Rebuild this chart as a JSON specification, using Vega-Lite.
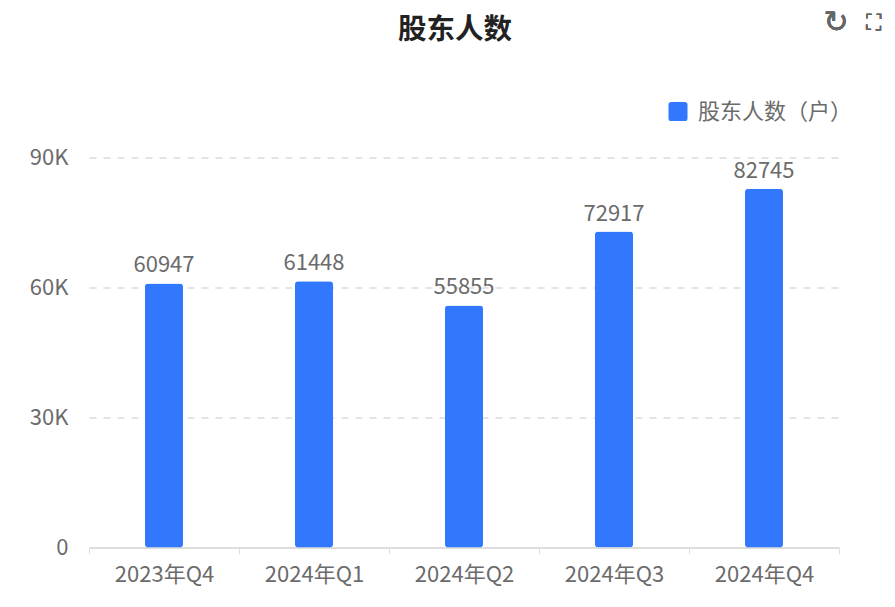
{
  "$schema": "https://vega.github.io/schema/vega-lite/v6.json",
  "width": 750,
  "height": 390,
  "autosize": "none",
  "padding": {"left": 89, "top": 157.5, "right": 56, "bottom": 59.5},
  "background": "white",
  "view": {"stroke": null},
  "title": {
    "text": "股东人数",
    "font": "Noto Sans CJK SC",
    "fontSize": 28.5,
    "fontWeight": "bold",
    "color": "#222222",
    "anchor": "middle",
    "dx": -9,
    "offset": -36
  },
  "data": {
    "values": [
      {"quarter": "2023年Q4", "holders": 60947},
      {"quarter": "2024年Q1", "holders": 61448},
      {"quarter": "2024年Q2", "holders": 55855},
      {"quarter": "2024年Q3", "holders": 72917},
      {"quarter": "2024年Q4", "holders": 82745}
    ]
  },
  "encoding": {
    "x": {
      "field": "quarter",
      "type": "nominal",
      "sort": null,
      "title": null,
      "scale": {"paddingInner": 0, "paddingOuter": 0},
      "axis": {
        "labelAngle": 0,
        "labelFont": "Noto Sans CJK SC",
        "labelFontSize": 22,
        "labelColor": "#6b6b6b",
        "labelPadding": 11,
        "domainColor": "#dddddd",
        "domainWidth": 2,
        "tickColor": "#dddddd",
        "tickSize": 6,
        "tickBand": "extent",
        "grid": false
      }
    }
  },
  "layer": [
    {
      "mark": {"type": "bar", "width": 38, "cornerRadius": 3},
      "encoding": {
        "y": {
          "field": "holders",
          "type": "quantitative",
          "title": null,
          "scale": {"domain": [0, 90000], "nice": false},
          "axis": {
            "values": [0, 30000, 60000, 90000],
            "labelExpr": "datum.value == 0 ? '0' : datum.value / 1000 + 'K'",
            "labelFont": "Noto Sans CJK SC",
            "labelFontSize": 22,
            "labelColor": "#6b6b6b",
            "labelPadding": 21,
            "domain": false,
            "ticks": false,
            "grid": true,
            "gridColor": "#e5e5e5",
            "gridWidth": 2,
            "gridDash": [7, 7]
          }
        },
        "color": {
          "datum": "股东人数（户）",
          "scale": {"range": ["#3178ff"]},
          "legend": {
            "title": null,
            "orient": "none",
            "legendX": 578,
            "legendY": -57,
            "symbolType": "M-0.7,-1H0.7Q1,-1,1,-0.7V0.7Q1,1,0.7,1H-0.7Q-1,1,-1,0.7V-0.7Q-1,-1,-0.7,-1Z",
            "symbolSize": 361,
            "symbolStrokeWidth": 0,
            "labelFont": "Noto Sans CJK SC",
            "labelFontSize": 22,
            "labelColor": "#6b6b6b",
            "labelOffset": 9
          }
        }
      }
    },
    {
      "mark": {
        "type": "text",
        "baseline": "bottom",
        "dy": -6,
        "font": "Noto Sans CJK SC",
        "fontSize": 22,
        "color": "#6b6b6b"
      },
      "encoding": {
        "y": {"field": "holders", "type": "quantitative"},
        "text": {"field": "holders", "type": "quantitative", "format": "d"}
      }
    },
    {
      "mark": {
        "type": "text",
        "clip": false,
        "dx": 72,
        "font": "DejaVu Sans",
        "fontSize": 30,
        "color": "#666666"
      },
      "encoding": {
        "x": {"datum": "2024年Q4"},
        "y": {"datum": 121000},
        "text": {"value": "↻"}
      }
    },
    {
      "mark": {
        "type": "text",
        "clip": false,
        "dx": 109,
        "font": "DejaVu Sans",
        "fontSize": 22,
        "color": "#666666"
      },
      "encoding": {
        "x": {"datum": "2024年Q4"},
        "y": {"datum": 121000},
        "text": {"value": "⛶"}
      }
    }
  ]
}
